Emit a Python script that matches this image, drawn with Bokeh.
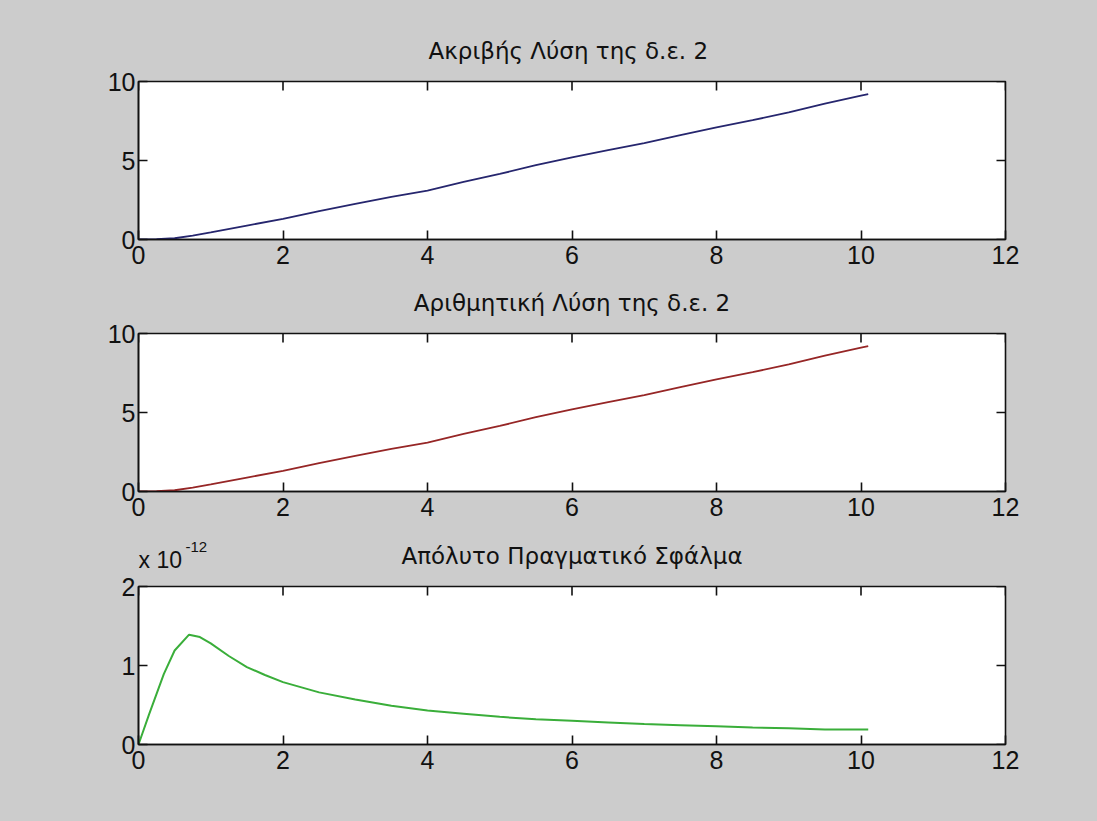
import math
from bokeh.plotting import figure
from bokeh.layouts import column
from bokeh.models import FixedTicker, Range1d, CustomJSTickFormatter
from bokeh.core.properties import value
from bokeh.embed import file_html
from bokeh.resources import INLINE

# ---- data ----
x_exact = [0, 0.25, 0.5, 0.75, 1.0, 1.5, 2.0, 2.5, 3.0, 3.5, 4.0, 4.5, 5.0, 5.5,
           6.0, 6.5, 7.0, 7.5, 8.0, 8.5, 9.0, 9.5, 10.0, 10.1]
y_exact = [0, 0.02, 0.08, 0.25, 0.45, 0.88, 1.31, 1.8, 2.25, 2.7, 3.1, 3.65, 4.15, 4.7,
           5.2, 5.65, 6.1, 6.6, 7.1, 7.55, 8.05, 8.6, 9.1, 9.2]

x_num = [0, 0.25, 0.5, 0.75, 1.0, 1.5, 2.0, 2.5, 3.0, 3.5, 4.0, 4.5, 5.0, 5.5,
         6.0, 6.5, 7.0, 7.5, 8.0, 8.5, 9.0, 9.5, 10.0, 10.1]
y_num = [0, 0.02, 0.08, 0.25, 0.45, 0.88, 1.31, 1.8, 2.25, 2.7, 3.1, 3.65, 4.15, 4.7,
         5.2, 5.65, 6.1, 6.6, 7.1, 7.55, 8.05, 8.6, 9.1, 9.2]

x_err = [0, 0.15, 0.35, 0.5, 0.7, 0.85, 1.0, 1.25, 1.5, 1.75, 2.0, 2.5, 3.0, 3.5,
         4.0, 4.5, 5.0, 5.5, 6.0, 6.5, 7.0, 7.5, 8.0, 8.5, 9.0, 9.5, 10.1]
y_err = [0, 0.39e-12, 0.89e-12, 1.19e-12, 1.39e-12, 1.36e-12, 1.28e-12, 1.12e-12,
         0.98e-12, 0.88e-12, 0.79e-12, 0.66e-12, 0.57e-12, 0.49e-12, 0.43e-12,
         0.39e-12, 0.35e-12, 0.32e-12, 0.30e-12, 0.28e-12, 0.26e-12, 0.245e-12,
         0.23e-12, 0.215e-12, 0.205e-12, 0.19e-12, 0.19e-12]

x_ticks = [0, 2, 4, 6, 8, 10, 12]
y_ticks_sol = [0, 5, 10]
y_ticks_err = [0, 1e-12, 2e-12]

titles = ["Ακριβής Λύση  της δ.ε. 2", "Αριθμητική Λύση της δ.ε. 2", "Απόλυτο Πραγματικό Σφάλμα"]
exp_base = "x 10"
exp_power = "-12"

BG = "#cccccc"
TICK_FONT = "Liberation Sans"
TITLE_FONT = "DejaVu Sans"
TXT = "#111111"
LINE = "#111111"
TICK_FS = "25px"
TITLE_FS = "23px"
TICK_LEN = 9
W = 1097
FRAME_L, FRAME_R = 138, 92
FRAME_X0, FRAME_X1 = FRAME_L, W - FRAME_R
FRAME_CX = (FRAME_X0 + FRAME_X1) / 2


def style_axis(ax):
    ax.major_tick_in = TICK_LEN
    ax.major_tick_out = 0
    ax.minor_tick_line_color = None
    ax.axis_line_color = LINE
    ax.axis_line_width = 1.6
    ax.major_tick_line_color = LINE
    ax.major_tick_line_width = 1.6
    ax.major_label_text_font = TICK_FONT
    ax.major_label_text_color = TXT
    ax.major_label_text_font_size = TICK_FS


def make_fig(height, top, bottom, ymax, yticks, formatter=None):
    p = figure(width=W, height=height, x_range=Range1d(0, 12), y_range=Range1d(0, ymax),
               output_backend="svg", toolbar_location=None, title_location=None,
               min_border_left=FRAME_L, min_border_right=FRAME_R,
               min_border_top=top, min_border_bottom=bottom,
               background_fill_color="white", border_fill_color=BG,
               outline_line_color=LINE, outline_line_width=1.6)
    p.xgrid.visible = False
    p.ygrid.visible = False
    p.xaxis.ticker = FixedTicker(ticks=x_ticks)
    p.yaxis.ticker = FixedTicker(ticks=yticks)
    if formatter is not None:
        p.yaxis.formatter = formatter
    style_axis(p.xaxis[0])
    style_axis(p.yaxis[0])
    p.xaxis.major_label_standoff = 6
    p.yaxis.major_label_standoff = 3
    # inward ticks on the top and right edges of the box (MATLAB style)
    p.ray(x=x_ticks, y=[ymax] * len(x_ticks), length=TICK_LEN, length_units="screen",
          angle=-math.pi / 2, line_color=LINE, line_width=1.6)
    p.ray(x=[12] * len(yticks), y=yticks, length=TICK_LEN, length_units="screen",
          angle=math.pi, line_color=LINE, line_width=1.6)
    return p


def make_band(height):
    # a text-only strip; its frame lines up with the plot frames (138..1005 px)
    b = figure(width=W, height=height, x_range=Range1d(FRAME_X0, FRAME_X1),
               y_range=Range1d(0, height),
               output_backend="svg", toolbar_location=None, title_location=None,
               min_border_left=FRAME_L, min_border_right=FRAME_R,
               min_border_top=0, min_border_bottom=0,
               x_axis_type=None, y_axis_type=None, outline_line_color=None,
               background_fill_color=BG, border_fill_color=BG)
    b.xgrid.visible = False
    b.ygrid.visible = False
    return b


def band_text(b, text, x, y, font, size, align="center"):
    b.text(x=[x], y=[y], text=[text], text_font=value(font),
           text_font_size=value(size), text_align=align, text_baseline="middle",
           text_color=TXT)


# title bands and plots
b1 = make_band(67)
band_text(b1, titles[0], FRAME_CX, 17, TITLE_FONT, TITLE_FS)
p1 = make_fig(210, 14, 38, 10, y_ticks_sol)
p1.line(x_exact, y_exact, line_color="#26266e", line_width=1.8)

b2 = make_band(42)
band_text(b2, titles[1], FRAME_CX, 17, TITLE_FONT, TITLE_FS)
p2 = make_fig(210, 14, 38, 10, y_ticks_sol)
p2.line(x_num, y_num, line_color="#962626", line_width=1.8)

b3 = make_band(43)
band_text(b3, titles[2], FRAME_CX, 17, TITLE_FONT, TITLE_FS)
band_text(b3, exp_base, FRAME_X0, 13, TICK_FONT, "23px", align="left")
band_text(b3, exp_power, FRAME_X0 + 47, 26, TICK_FONT, "15px", align="left")

fmt = CustomJSTickFormatter(code="return (tick*1e12).toFixed(0);")
p3 = make_fig(249, 14, 77, 2e-12, y_ticks_err, formatter=fmt)
p3.line(x_err, y_err, line_color="#3aae3a", line_width=2.0)

layout = column(b1, p1, b2, p2, b3, p3, spacing=0, background=BG)

html = file_html(layout, INLINE, title="plot")
html = html.replace("</head>", "<style>html, body { background-color: #cccccc; }</style>\n</head>", 1)
open("out.html", "w").write(html)
